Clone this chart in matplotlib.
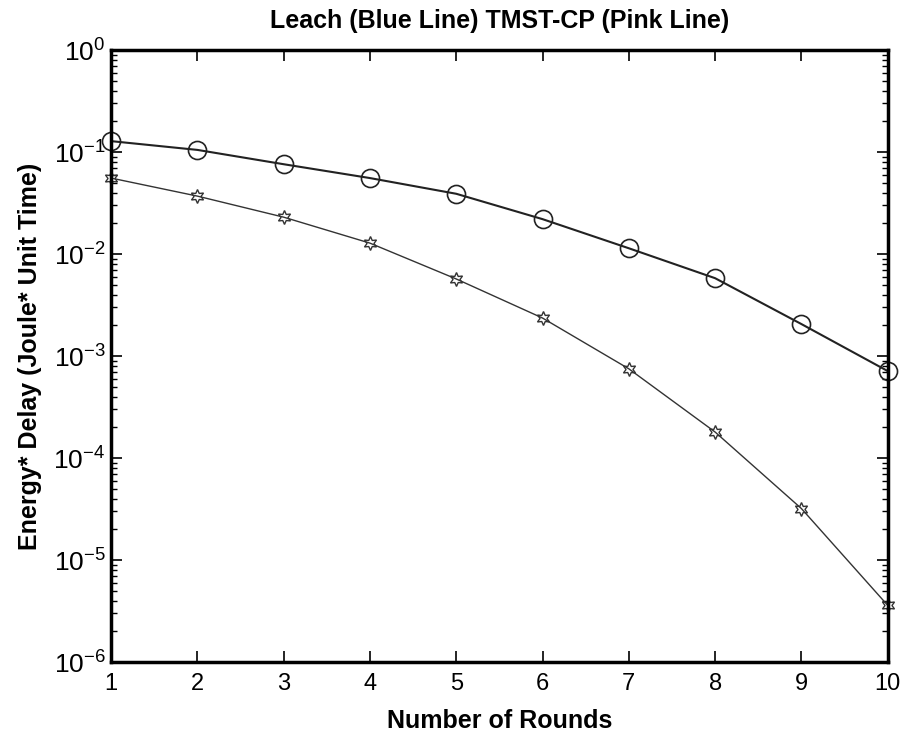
import matplotlib.pyplot as plt

plt.rcParams['font.family'] = ['Liberation Sans', 'DejaVu Sans']
plt.rcParams['mathtext.fontset'] = 'custom'
plt.rcParams['mathtext.rm'] = 'Liberation Sans'

rounds = [1, 2, 3, 4, 5, 6, 7, 8, 9, 10]
leach = [0.128, 0.105, 0.076, 0.0556, 0.039, 0.022, 0.0114, 0.0058, 0.00206, 0.000713]
tmst_cp = [0.0556, 0.037, 0.023, 0.0128, 0.0057, 0.00236, 0.00075, 0.00018, 3.2e-5, 3.6e-6]

fig = plt.figure(figsize=(9.03, 7.32), dpi=100)
ax = fig.add_axes([0.123, 0.0956, 0.860, 0.836])

ax.plot(rounds, leach, color='#222222', marker='o', markersize=13,
        markerfacecolor='none', markeredgewidth=1.2, linewidth=1.5, clip_on=False)
ax.plot(rounds, tmst_cp, color='#333333', marker=(6, 1, 0), markersize=10,
        markerfacecolor='none', markeredgewidth=1.0, linewidth=1.0, clip_on=False)

ax.set_yscale('log')
ax.set_xlim(1, 10)
ax.set_ylim(1e-6, 1e0)
ax.set_xticks(rounds)

ax.tick_params(which='both', direction='in', top=True, right=True, labelsize=17)
ax.tick_params(axis='y', labelsize=19, pad=4)
ax.tick_params(which='major', length=8, width=1.2)
ax.tick_params(which='minor', length=4, width=1.0)
ax.tick_params(axis='x', pad=8)
for s in ax.spines.values():
    s.set_linewidth(2.5)

ax.set_title('Leach (Blue Line) TMST-CP (Pink Line)', fontsize=18, fontweight='bold', pad=16)
ax.set_xlabel('Number of Rounds', fontsize=18, fontweight='bold', labelpad=10)
ax.set_ylabel('Energy* Delay (Joule* Unit Time)', fontsize=18, fontweight='bold', labelpad=8)

fig.savefig('out.png', dpi=100)
